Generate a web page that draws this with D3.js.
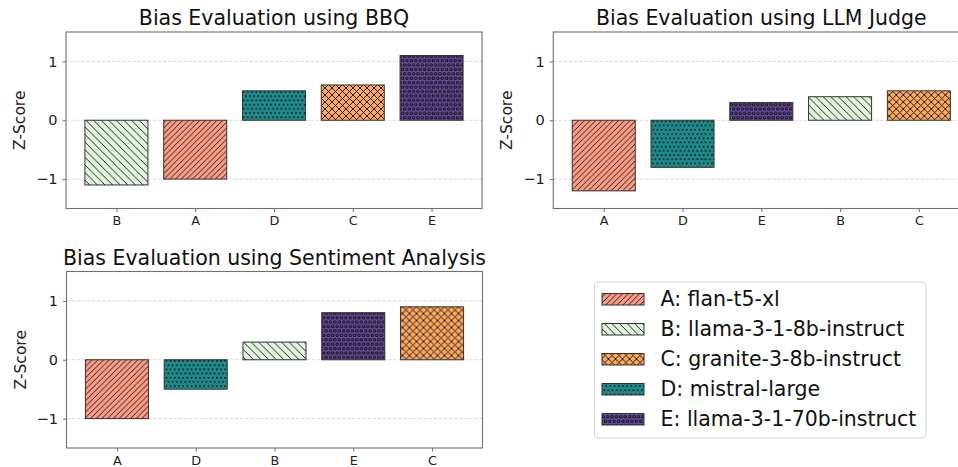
<!DOCTYPE html>
<html><head><meta charset="utf-8">
<script src="https://cdn.jsdelivr.net/npm/d3@7"></script>
<style>
html,body{margin:0;padding:0;background:#fff;}
svg{display:block;font-family:"DejaVu Sans",sans-serif;}
</style></head>
<body>
<svg id="chart" width="958" height="467"></svg>
<script>
// ---- data ----
const models = ["A","B","C","D","E"];
const modelNames = ["flan-t5-xl","llama-3-1-8b-instruct","granite-3-8b-instruct","mistral-large","llama-3-1-70b-instruct"];
const modelColors = ["#fa9c85","#e1f3dc","#fca85f","#1f8a8a","#6a4fa3"];
const modelHatches = ["fwd","back","cross","dots","rings"];

const titles = ["Bias Evaluation using BBQ","Bias Evaluation using LLM Judge","Bias Evaluation using Sentiment Analysis"];
const bbqCats = ["B","A","D","C","E"];
const bbqVals = [-1.1,-1.0,0.5,0.6,1.1];
const llmCats = ["A","D","E","B","C"];
const llmVals = [-1.2,-0.8,0.3,0.4,0.5];
const saCats = ["A","D","B","E","C"];
const saVals = [-1.0,-0.5,0.3,0.8,0.9];
const yTicks = [-1,0,1];
const yLabel = "Z-Score";

// ---- layout ----
const svg = d3.select("#chart");
const defs = svg.append("defs");

function makePattern(id, color, kind){
  let w, h;
  if(kind==="fwd"){w=5.7;h=5.7;}
  else if(kind==="back"){w=7.6;h=7.6;}
  else if(kind==="cross"){w=7;h=7;}
  else if(kind==="dots"){w=4.2;h=8.4;}
  else {w=4.4;h=8.8;}
  const p = defs.append("pattern").attr("id",id).attr("patternUnits","userSpaceOnUse")
    .attr("width",w).attr("height",h);
  p.append("rect").attr("width",w).attr("height",h).attr("fill",color);
  const sw = 0.9, sc = "#111";
  const addLines = ls => ls.forEach(l=>p.append("line").attr("x1",l[0]).attr("y1",l[1]).attr("x2",l[2]).attr("y2",l[3]).attr("stroke",sc).attr("stroke-width",sw));
  if(kind==="fwd"){
    addLines([[0,h,w,0],[-w,h,0,0],[w,h,2*w,0]]);
  } else if(kind==="back"){
    addLines([[0,0,w,h],[-w,0,0,h],[w,0,2*w,h]]);
  } else if(kind==="cross"){
    addLines([[0,h,w,0],[-w,h,0,0],[w,h,2*w,0],[0,0,w,h],[-w,0,0,h],[w,0,2*w,h]]);
  } else if(kind==="dots"){
    [[0.4,0.4],[2.5,4.6]].forEach(d=>p.append("rect").attr("x",d[0]).attr("y",d[1]).attr("width",1.6).attr("height",1.6).attr("fill","#111"));
  } else {
    [[2.2,2.2],[0,6.6],[4.4,6.6]].forEach(d=>p.append("circle").attr("cx",d[0]).attr("cy",d[1]).attr("r",1.3).attr("fill","none").attr("stroke","#111").attr("stroke-width",1));
  }
}
models.forEach((m,i)=>makePattern("pat"+m, modelColors[i], modelHatches[i]));

const panelW = 416, panelH = 176.5;
const panels = [
  {x:66,   y:32,    title:titles[0], cats:bbqCats, vals:bbqVals},
  {x:553.3,y:32,    title:titles[1], cats:llmCats, vals:llmVals},
  {x:66.5, y:271.5, title:titles[2], cats:saCats,  vals:saVals}
];

panels.forEach(P=>{
  const g = svg.append("g").attr("transform",`translate(${P.x},${P.y})`);
  const x = d3.scaleLinear().domain([-0.64, P.cats.length-1+0.64]).range([0,panelW]);
  const y = d3.scaleLinear().domain([-1.5,1.5]).range([panelH,0]);
  // grid
  g.selectAll(".grid").data(yTicks).enter().append("line")
    .attr("x1",0).attr("x2",panelW).attr("y1",d=>y(d)).attr("y2",d=>y(d))
    .attr("stroke","#d0d0d0").attr("stroke-width",0.8).attr("stroke-dasharray","3.5,1.6");
  // bars
  g.selectAll(".bar").data(P.cats.map((c,i)=>({c,v:P.vals[i],i}))).enter().append("rect")
    .attr("x",d=>x(d.i-0.4)).attr("width",d=>x(d.i+0.4)-x(d.i-0.4))
    .attr("y",d=>y(Math.max(0,d.v))).attr("height",d=>Math.abs(y(d.v)-y(0)))
    .attr("fill",d=>`url(#pat${d.c})`).attr("stroke","#333").attr("stroke-width",1);
  // frame
  g.append("rect").attr("x",0).attr("y",0).attr("width",panelW).attr("height",panelH)
    .attr("fill","none").attr("stroke","#707070").attr("stroke-width",1.1);
  // y axis
  const ya = d3.axisLeft(y).tickValues(yTicks).tickSize(3.5).tickPadding(5)
    .tickFormat(d=>d<0?"\u2212"+Math.abs(d):String(d));
  const yg = g.append("g").call(ya);
  yg.select(".domain").remove();
  yg.selectAll("line").attr("stroke","#707070");
  yg.selectAll("text").attr("font-size",14.5).attr("fill","#222").attr("font-family","DejaVu Sans");
  // x axis
  const xa = d3.axisBottom(x).tickValues(P.cats.map((c,i)=>i)).tickSize(3.5).tickPadding(4)
    .tickFormat(i=>P.cats[i]);
  const xg = g.append("g").attr("transform",`translate(0,${panelH})`).call(xa);
  xg.select(".domain").remove();
  xg.selectAll("line").attr("stroke","#707070");
  xg.selectAll("text").attr("font-size",12.8).attr("fill","#222").attr("font-family","DejaVu Sans");
  // title
  g.append("text").attr("x",panelW/2).attr("y",-6.7).attr("text-anchor","middle")
    .attr("font-size",20.5).attr("fill","#111").text(P.title);
  // ylabel
  g.append("text").attr("transform",`translate(-41,${panelH/2}) rotate(-90)`)
    .attr("text-anchor","middle").attr("font-size",15.5).attr("fill","#222").text(yLabel);
});

// legend
const lg = svg.append("g").attr("transform","translate(594.5,282)");
lg.append("rect").attr("width",331.5).attr("height",156).attr("rx",3)
  .attr("fill","#fff").attr("stroke","#d6d6d6").attr("stroke-width",1);
models.forEach((m,i)=>{
  const row = lg.append("g").attr("transform",`translate(0,${17+i*30})`);
  row.append("rect").attr("x",7.5).attr("y",-5.5).attr("width",42).attr("height",11.5)
    .attr("fill",`url(#pat${m})`).attr("stroke","#333").attr("stroke-width",1);
  row.append("text").attr("x",66).attr("y",7.3).attr("font-size",20.5).attr("fill","#111")
    .text(m+": "+modelNames[i]);
});
</script>
</body></html>
